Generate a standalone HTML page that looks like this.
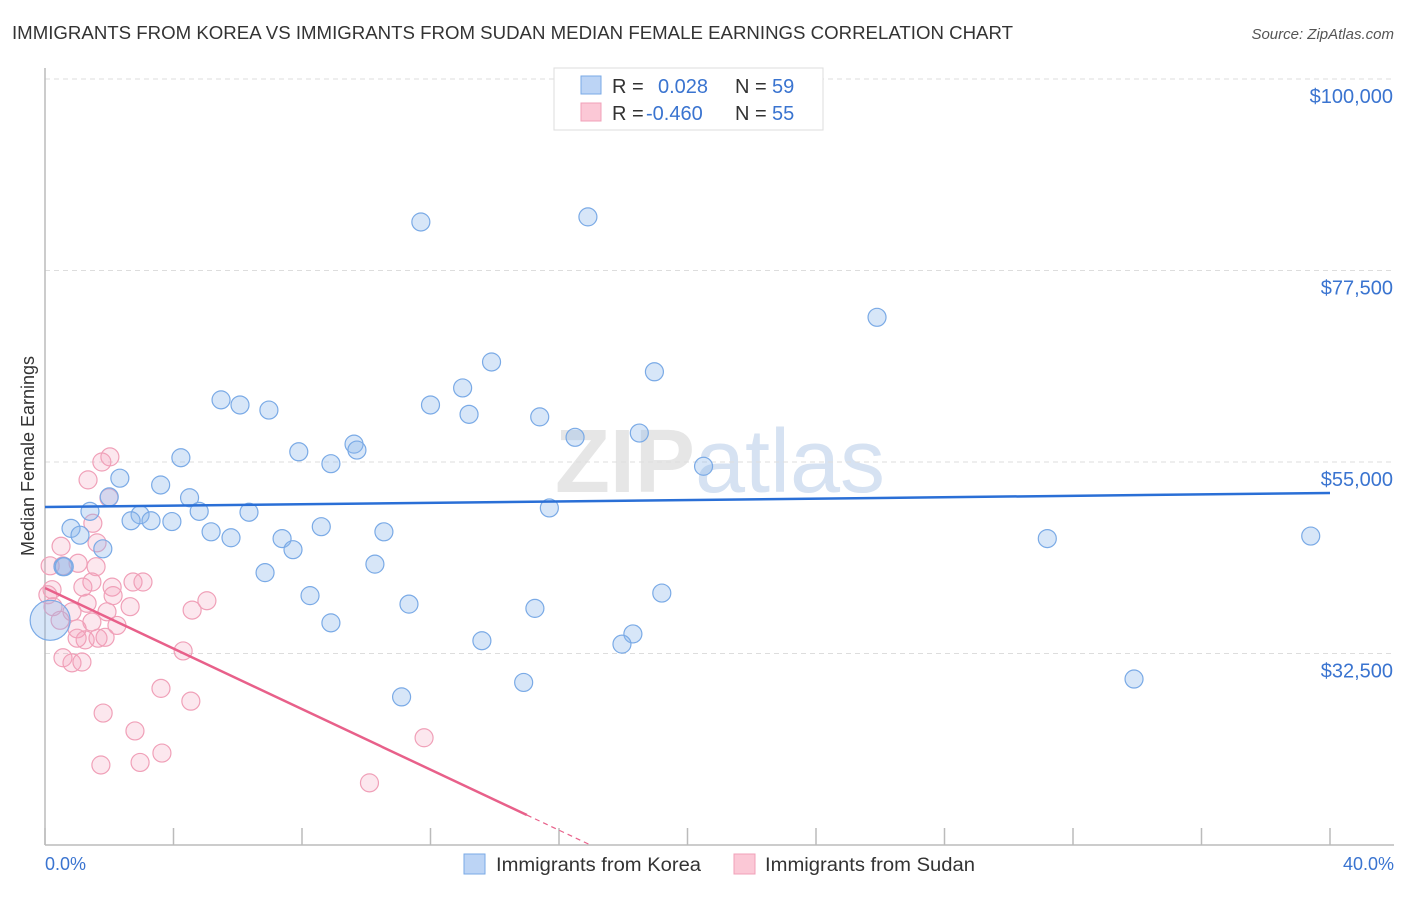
<!DOCTYPE html>
<html><head><meta charset="utf-8"><style>
body{margin:0;background:#fff;font-family:"Liberation Sans",sans-serif;}
svg text{font-family:"Liberation Sans",sans-serif;}
</style></head><body>
<svg id="chart" width="1406" height="892" viewBox="0 0 1406 892" xmlns="http://www.w3.org/2000/svg">
<text x="12" y="39" font-size="18" fill="#333" textLength="1001" lengthAdjust="spacingAndGlyphs">IMMIGRANTS FROM KOREA VS IMMIGRANTS FROM SUDAN MEDIAN FEMALE EARNINGS CORRELATION CHART</text>
<text x="1394" y="39" font-size="15" fill="#555" text-anchor="end" font-style="italic">Source: ZipAtlas.com</text>
<text x="720" y="492" font-size="90" text-anchor="middle" fill="#e6e6e6" font-family="Liberation Serif"><tspan font-weight="bold">ZIP</tspan><tspan fill="#d6e2f2" font-family="Liberation Sans">atlas</tspan></text>
<text transform="translate(34,456) rotate(-90)" font-size="18" fill="#333" text-anchor="middle">Median Female Earnings</text>
<g id="grid"></g>
<line x1="45" y1="845" x2="1394" y2="845" stroke="#bbb" stroke-width="1.5"/>
<line x1="45" y1="68" x2="45" y2="845" stroke="#bbb" stroke-width="1.5"/>
<g id="pts"></g>
<g id="trends"></g>
<text x="45" y="870" font-size="18" fill="#3a74d0">0.0%</text>
<text x="1394" y="870" font-size="18" fill="#3a74d0" text-anchor="end">40.0%</text>
<g>
<rect x="554" y="68" width="269" height="62" fill="#fff" stroke="#ddd"/>
<rect x="581" y="76" width="20" height="18" fill="#bcd4f5" stroke="#7aaae6"/>
<rect x="581" y="103" width="20" height="18" fill="#fbc8d6" stroke="#f0a0b8"/>
<text x="612" y="93" font-size="20" fill="#333">R =</text>
<text x="658" y="93" font-size="20" fill="#3a74d0">0.028</text>
<text x="735" y="93" font-size="20" fill="#333">N =</text>
<text x="772" y="93" font-size="20" fill="#3a74d0">59</text>
<text x="612" y="120" font-size="20" fill="#333">R =</text>
<text x="646" y="120" font-size="20" fill="#3a74d0">-0.460</text>
<text x="735" y="120" font-size="20" fill="#333">N =</text>
<text x="772" y="120" font-size="20" fill="#3a74d0">55</text>
</g>
<g><rect x="464" y="854" width="21" height="20" fill="#bcd4f5" stroke="#7aaae6"/><text x="496" y="871" font-size="19" fill="#333" textLength="205" lengthAdjust="spacingAndGlyphs">Immigrants from Korea</text></g>
<g><rect x="734" y="854" width="21" height="20" fill="#fbc8d6" stroke="#f0a0b8"/><text x="765" y="871" font-size="19" fill="#333" textLength="210" lengthAdjust="spacingAndGlyphs">Immigrants from Sudan</text></g>
</svg>
<script>
const yTicks=[32500,55000,77500,100000];
const yTickLabels=["$32,500","$55,000","$77,500","$100,000"];
const xTicks=[0,4,8,12,16,20,24,28,32,36,40];
const koreaX=[11.7,16.9,25.9,13.9,18.97,13.0,5.48,6.07,6.97,12.0,13.2,15.4,18.5,16.5,9.62,9.71,7.9,4.23,8.9,20.5,2.33,3.6,2.0,4.5,1.4,2.96,6.35,4.8,15.7,2.68,3.3,3.95,0.81,8.6,1.09,5.17,10.55,5.79,7.38,31.2,39.4,7.72,1.8,10.27,0.56,6.85,8.25,19.2,11.33,15.25,8.9,18.3,17.96,13.6,0.16,11.1,14.9,33.9,0.6];
const koreaY=[83200,83800,72000,66750,65600,63700,62300,61700,61100,61700,60600,60300,58400,57900,57100,56400,56200,55500,54800,54500,53100,52300,50900,50800,49200,48800,49100,49200,49600,48100,48100,48000,47200,47400,46400,46800,46800,46100,46000,46000,46300,44700,44800,43000,42700,42000,39300,39600,38300,37800,36100,34800,33600,34000,36400,27400,29100,29500,42700];
const sudanX=[2.02,1.77,1.34,1.99,1.49,0.5,1.62,1.03,1.59,0.16,0.56,2.74,3.05,1.46,1.18,2.09,2.12,0.22,0.09,1.31,2.65,5.04,4.58,0.25,0.84,1.93,1.46,2.24,0.47,1.0,1.25,1.65,1.87,1.0,4.3,0.56,0.84,1.15,3.61,4.54,1.81,2.8,1.74,2.96,3.64,11.8,10.1];
const sudanY=[55600,55000,52900,50800,47800,45100,45500,43100,42700,42800,42800,40900,40900,40900,40300,40300,39300,40000,39400,38400,38000,38700,37600,38000,37400,37400,36200,35800,36400,35400,34100,34300,34400,34300,32800,32000,31400,31500,28400,26900,25500,23400,19400,19700,20800,22600,17300];
const koreaTrend=[49710,51355];
const sudanTrend=[40190,13520];
const sudanSolidEnd=15.0, sudanDashEnd=17.0;
const NS="http://www.w3.org/2000/svg";
const X=v=>45+v/40*1285;
const Y=v=>79+(100000-v)/22500*191.5;
function mk(tag,attrs,parent){const e=document.createElementNS(NS,tag);for(const k in attrs)e.setAttribute(k,attrs[k]);parent.appendChild(e);return e;}
const grid=document.getElementById('grid');
yTicks.forEach((t,i)=>{
  const l=mk('line',{x1:45,x2:1394,y1:Y(t),y2:Y(t),stroke:'#ddd','stroke-dasharray':'5,4'},grid);
  
  
  const tx=mk('text',{x:1393,y:Y(t)+24,'font-size':20,fill:'#3a74d0','text-anchor':'end'},grid);
  tx.textContent=yTickLabels[i];
  
  
});
xTicks.forEach(t=>{
  const l=mk('line',{x1:X(t),x2:X(t),y1:828,y2:845,stroke:'#bbb','stroke-width':1.5},grid);
  
  
});
const pts=document.getElementById('pts');
sudanX.forEach((v,i)=>{
  const c=mk('circle',{cx:X(v),cy:Y(sudanY[i]),r:9,fill:'rgba(244,160,186,0.25)',stroke:'#f0a0b8','stroke-width':1.2},pts);
  
  
});
koreaX.forEach((v,i)=>{
  const big=(i===54);
  const c=mk('circle',{cx:X(v),cy:Y(koreaY[i]),r:big?20:9,fill:'rgba(140,182,236,0.35)',stroke:'#7aaae6','stroke-width':1.2},pts);
  
  
});
const tr=document.getElementById('trends');
const kl=mk('line',{x1:X(0),y1:Y(koreaTrend[0]),x2:X(40),y2:Y(koreaTrend[1]),stroke:'#2a6fd6','stroke-width':2.5},tr);


const sy=x=>sudanTrend[0]+(sudanTrend[1]-sudanTrend[0])*x/sudanSolidEnd;
const sl=mk('line',{x1:X(0),y1:Y(sy(0)),x2:X(sudanSolidEnd),y2:Y(sy(sudanSolidEnd)),stroke:'#e8608a','stroke-width':2.5},tr);


const sd=mk('line',{x1:X(sudanSolidEnd),y1:Y(sy(sudanSolidEnd)),x2:X(sudanDashEnd),y2:Y(sy(sudanDashEnd)),stroke:'#e8608a','stroke-width':1.2,'stroke-dasharray':'5,4'},tr);


</script>
</body></html>
